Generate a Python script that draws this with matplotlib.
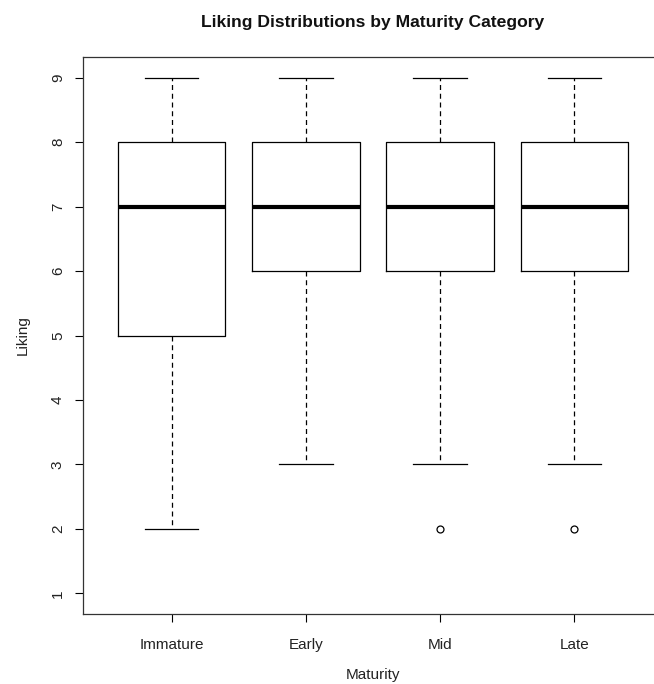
import matplotlib
matplotlib.use("Agg")
import matplotlib.pyplot as plt

categories = ["Immature", "Early", "Mid", "Late"]
whisker_low = [2, 3, 3, 3]
q1 = [5, 6, 6, 6]
medians = [7, 7, 7, 7]
q3 = [8, 8, 8, 8]
whisker_high = [9, 9, 9, 9]
outliers = [[], [], [2], [2]]
y_ticks = [1, 2, 3, 4, 5, 6, 7, 8, 9]

plt.rcParams['font.family'] = ['Liberation Sans', 'DejaVu Sans']

fig = plt.figure(figsize=(6.54, 6.84), dpi=100)
W, H = 654, 684
left, right, top, bottom = 83, 663, 57, 614
ax = fig.add_axes([left / W, 1 - bottom / H, (right - left) / W, (bottom - top) / H])

stats = []
for i, c in enumerate(categories):
    stats.append(dict(label=c, whislo=whisker_low[i], q1=q1[i], med=medians[i],
                      q3=q3[i], whishi=whisker_high[i], fliers=outliers[i]))

positions = list(range(1, len(categories) + 1))
ax.bxp(stats, positions=positions, widths=0.8, showfliers=True,
       boxprops=dict(color='black', linewidth=0.9),
       medianprops=dict(color='black', linewidth=3),
       whiskerprops=dict(color='black', linewidth=0.9, linestyle=(0, (4, 3))),
       capprops=dict(color='black', linewidth=0.9),
       flierprops=dict(marker='o', markerfacecolor='none', markeredgecolor='black',
                       markersize=5, markeredgewidth=0.9))

ax.set_xlim(0.34, 4.66)
ax.set_ylim(0.68, 9.32)
ax.set_yticks(y_ticks)
ax.set_yticklabels([str(v) for v in y_ticks], rotation=90, va='center')
ax.set_xticks(positions)
ax.set_xticklabels(categories)
ax.tick_params(axis='both', direction='out', length=6, width=0.8, labelsize=11,
               labelcolor='#222222')
ax.tick_params(axis='x', pad=11)
ax.tick_params(axis='y', pad=7)
for s in ax.spines.values():
    s.set_linewidth(0.9)
    s.set_color('#333333')

ax.set_title("Liking Distributions by Maturity Category", fontsize=12.6,
             fontweight='bold', pad=21.5, color='#111111')
ax.set_xlabel("Maturity", fontsize=11, labelpad=12, color='#222222')
ax.set_ylabel("Liking", fontsize=11, labelpad=15, color='#222222')

fig.savefig("out.png", dpi=100)
